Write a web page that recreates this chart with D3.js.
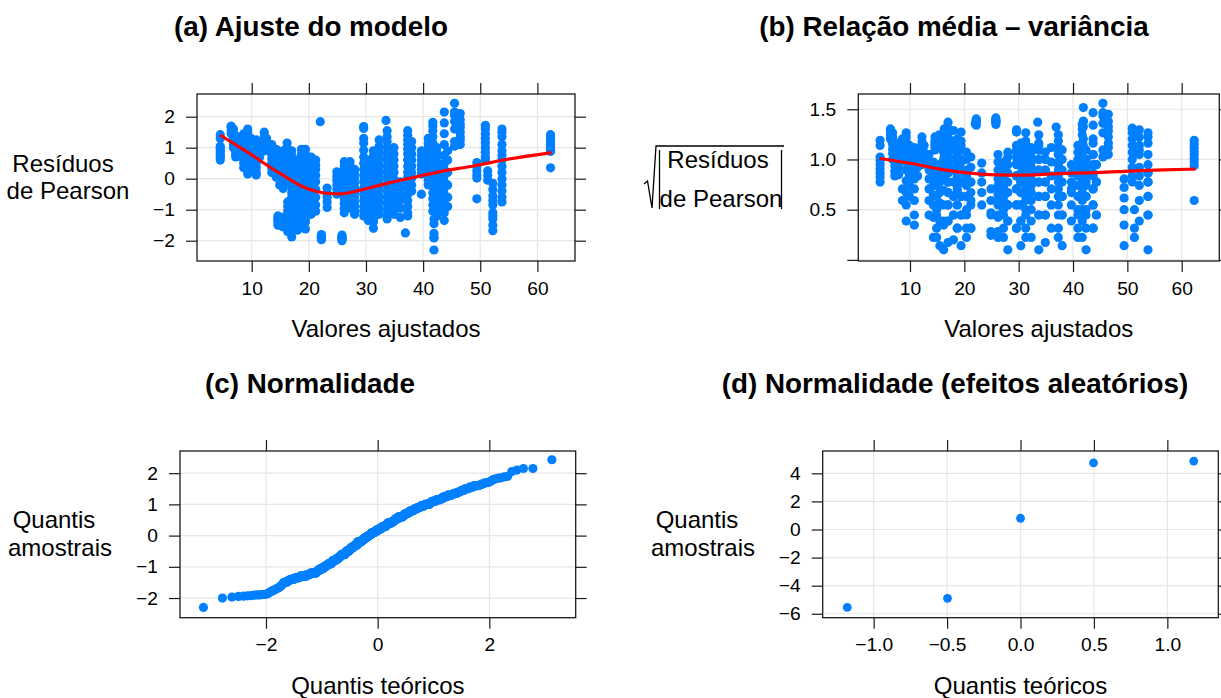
<!DOCTYPE html>
<html><head><meta charset="utf-8">
<script src="https://cdn.jsdelivr.net/npm/d3@7/dist/d3.min.js"></script>
<style>
html,body{margin:0;padding:0;background:#fff;}
svg{display:block;font-family:"Liberation Sans",Arial,Helvetica,sans-serif;}
</style></head>
<body><svg id="chart" width="1221" height="698"></svg>
<script>
// ---------------- DATA ----------------
// Fitted values (x position of each vertical group of observations)
const fittedGroups = [4.5,6.4,6.8,7.2,7.9,8.6,9.3,9.9,10.8,11.4,12.2,12.6,13.5,14.3,14.6,14.9,15.4,15.5,16.2,16.3,17.0,18.0,18.7,19.4,20.4,21.2,22.0,22.2,23.2,24.9,25.8,26.2,27.2,28.0,29.6,30.4,31.3,32.3,33.5,33.7,34.9,36.0,36.9,37.3,38.0,39.7,40.9,41.7,41.9,42.4,43.7,44.3,45.5,46.5,49.4,50.9,51.3,52.2,53.8,62.3];
// Pearson residuals for the observations of each group
const residualGroups = [
 [1.42,1.3,1.05,0.98,0.9,0.82,0.75,0.68,0.6],
 [1.7,1.65,1.55,1.45],
 [1.6,1.5,1.4,1.32,1.22,1.12,1.0],
 [1.3,1.2,1.1,0.98,0.88,0.78,0.7],
 [1.35,1.2,1.08,0.95,0.85,0.72],
 [1.45,1.3,1.15,1.0,0.5,0.35],
 [1.6,1.5,1.38,1.25,1.1,0.95,0.8,0.62,0.45,0.3,0.15],
 [1.3,1.15,1.0,0.85,0.7,0.55,0.4],
 [1.25,1.1,0.95,0.8,0.65,0.5,0.35,0.2,0.12],
 [1.15,1.0,0.85,0.7],
 [1.5,1.38,1.25,1.12,1.0,0.9],
 [1.3,1.15,1.02,0.92],
 [1.1,0.95,0.8,0.65,0.5,0.35,0.2],
 [0.95,0.82,0.68,0.55,0.42,0.3,0.18,0.05],
 [-1.2,-1.25,-1.3,-1.35,-1.4,-1.5],
 [0.85,0.7,0.55,0.4,0.25,0.1,-0.05,-0.2],
 [-1.25,-1.3,-1.35,-1.4,-1.45,-1.55],
 [0.9,0.75,0.6,0.45,0.3,0.15,0.02,-0.15,-0.32],
 [1.15,1.0,0.82,0.65,0.48,0.3,0.15,-0.01,-0.12],
 [-0.75,-0.9,-1.05,-1.2,-1.25,-1.3,-1.35,-1.4,-1.5,-1.7],
 [0.9,0.75,0.6,0.45,0.3,0.15,0.03,-0.15,-0.3,-0.45,-0.6,-0.75,-0.9,-1.05,-1.2,-1.25,-1.3,-1.35,-1.5,-1.72,-1.88],
 [0.6,0.4,0.2,-0.04,-0.2,-0.4,-0.6,-0.8,-1.0,-1.2,-1.3,-1.4,-1.66],
 [0.95,0.78,0.6,0.45,0.3,0.1,-0.1,-0.3,-0.5,-0.7,-0.9,-1.1,-1.2,-1.3,-1.35,-1.45],
 [0.95,0.8,0.6,0.4,0.2,0.02,-0.2,-0.4,-0.6,-0.8,-1.0,-1.2,-1.3,-1.4,-1.62],
 [0.7,0.55,0.4,0.25,0.1,-0.05,-0.2,-0.4,-0.6,-0.8,-1.0,-1.15],
 [0.6,0.45,0.3,0.1,-0.1,-0.35,-0.6,-0.85,-1.05],
 [1.84],
 [-1.8,-1.86,-1.9,-1.92,-1.94,-1.97],
 [-0.3,-0.45,-0.6,-0.75,-0.93],
 [0.22,0.08,-0.06,-0.2,-0.35,-0.5],
 [-1.82,-1.88,-1.9,-1.93,-1.95,-2.0],
 [0.55,0.42,0.3,0.18,0.05,-0.08,-0.2,-0.35,-0.5,-0.65,-0.8,-0.95,-1.1],
 [0.55,0.4,0.25,0.1,-0.05,-0.2,-0.35,-0.5,-0.65,-0.8,-0.95],
 [0.3,0.15,0.01,-0.15,-0.3,-0.45,-0.6,-0.75,-0.9,-1.05,-1.15],
 [1.68,1.62,1.3,1.15,0.92,0.7,0.5,0.3,0.1,-0.1,-0.3,-0.5,-0.7,-0.9,-1.05,-1.2],
 [0.6,0.45,0.3,0.15,-0.02,-0.15,-0.3,-0.45,-0.6,-0.75,-0.9,-1.05,-1.2,-1.25,-1.35],
 [0.9,0.72,0.55,0.4,0.25,0.1,-0.05,-0.2,-0.35,-0.5,-0.65,-0.8,-0.95,-1.1,-1.25,-1.3,-1.4,-1.6],
 [1.25,1.05,0.85,0.65,0.45,0.25,0.05,-0.15,-0.35,-0.55,-0.75,-0.95,-1.15],
 [1.88],
 [1.55,1.35,1.2,1.0,0.8,0.6,0.4,0.2,0.01,-0.2,-0.4,-0.6,-0.8,-1.0,-1.2,-1.3],
 [1.0,0.8,0.6,0.4,0.2,-0.03,-0.2,-0.4,-0.6,-0.8,-1.0,-1.15],
 [-0.1,-0.3,-0.5,-0.7,-0.95,-1.25],
 [-1.75],
 [1.55,1.4,1.25,1.1,0.95,0.8,0.6,0.4,0.2,0.05,-0.1,-0.3,-0.5,-0.7,-0.9,-1.1,-1.2],
 [1.2,1.0,0.8,0.6,0.4,0.2,0.02,-0.2,-0.4],
 [0.9,0.75,0.6,0.45,0.3,0.15,-0.5],
 [1.3,1.15,1.0,0.85,0.7,0.55,0.4,0.25,0.1,-0.05,-0.2],
 [1.82,1.7,1.55,1.35,1.15,0.95,0.75,0.55,0.35,0.15,-0.05,-0.25,-0.45,-0.65,-0.85,-1.05],
 [-1.3,-1.45,-1.76,-1.89,-1.91,-2.3],
 [1.0,0.85,0.7,0.55,0.4,0.25,0.1,-0.01,-0.2,-0.4,-0.6,-0.8,-1.0,-1.2],
 [2.15,1.8,1.45,1.1,0.75,0.5,0.3,0.1,-0.1,-0.3,-0.5,-0.7,-0.9,-1.1,-1.35],
 [0.9,0.6,0.2,-0.2,-0.6,-0.9],
 [2.43,2.15,2.05,1.85,1.6,1.2,1.05],
 [2.1,1.9,1.76,1.65,1.5,1.35,1.25,1.1],
 [0.52,0.38,0.25,0.12,0.02,-0.65],
 [1.72,1.6,1.45,1.3,1.15,1.0,0.85,0.7,0.6],
 [0.25,0.1,-0.05],
 [-0.15,-0.35,-0.55,-0.7,-0.85,-1.1,-1.2,-1.3,-1.5,-1.68],
 [1.6,1.5,1.35,1.1,0.9,0.75,0.6,0.4,0.2,-0.01,-0.2,-0.4,-0.6,-0.75],
 [1.42,1.33,1.25,1.17,1.1,1.02,0.95,0.88,0.35]
];
// Smoother (loess) curves
const smoothResidX = [4.46,9.12,14.96,19.6,23.1,25.5,29.0,33.7,38.3,43.0,48.8,54.6,62.5];
const smoothResidY = [1.41,0.87,0.17,-0.31,-0.47,-0.49,-0.37,-0.15,0.04,0.23,0.41,0.62,0.84];
const smoothScaleX = [4.4,10.6,15.5,21.0,26.0,30.9,35.2,40.1,44.4,50.5,56.7,62.5];
const smoothScaleY = [1.01,0.957,0.904,0.864,0.847,0.844,0.854,0.864,0.870,0.884,0.897,0.904];
// Predicted random effects (5 levels)
const randomEffects = [-5.55,-4.9,0.8,4.75,4.87];
// Tick values
const ticksFitted = [10,20,30,40,50,60];
const ticksResid = [-2,-1,0,1,2];
const ticksScale = [0,0.5,1.0,1.5];
const ticksQQx = [-2,0,2];
const ticksRanefX = [-1.0,-0.5,0.0,0.5,1.0];
const ticksRanefY = [-6,-4,-2,0,2,4];

// ---------------- HELPERS ----------------
function qnorm(p){
 const a=[-3.969683028665376e+01,2.209460984245205e+02,-2.759285104469687e+02,1.383577518672690e+02,-3.066479806614716e+01,2.506628277459239e+00];
 const b=[-5.447609879822406e+01,1.615858368580409e+02,-1.556989798598866e+02,6.680131188771972e+01,-1.328068155288572e+01];
 const c=[-7.784894002430293e-03,-3.223964580411365e-01,-2.400758277161838e+00,-2.549732539343734e+00,4.374664141464968e+00,2.938163982698783e+00];
 const d=[7.784695709041462e-03,3.224671290700398e-01,2.445134137142996e+00,3.754408661907416e+00];
 const pl=0.02425, ph=1-pl;
 if(p<pl){const q=Math.sqrt(-2*Math.log(p));return (((((c[0]*q+c[1])*q+c[2])*q+c[3])*q+c[4])*q+c[5])/((((d[0]*q+d[1])*q+d[2])*q+d[3])*q+1);}
 if(p<=ph){const q=p-0.5,r=q*q;return (((((a[0]*r+a[1])*r+a[2])*r+a[3])*r+a[4])*r+a[5])*q/(((((b[0]*r+b[1])*r+b[2])*r+b[3])*r+b[4])*r+1);}
 const q=Math.sqrt(-2*Math.log(1-p));return -(((((c[0]*q+c[1])*q+c[2])*q+c[3])*q+c[4])*q+c[5])/((((d[0]*q+d[1])*q+d[2])*q+d[3])*q+1);
}
function ppoints(n){const a=n<=10?3/8:1/2;return d3.range(1,n+1).map(i=>(i-a)/(n+1-2*a));}
const minus = s => String(s).replace("-","\u2212");

// derived data
const obs = [];
fittedGroups.forEach((f,i)=>residualGroups[i].forEach(r=>obs.push({f,r})));
const sortedRes = obs.map(o=>o.r).sort(d3.ascending);
const theoRes = ppoints(sortedRes.length).map(qnorm);
const sortedRanef = randomEffects.slice().sort(d3.ascending);
const theoRanef = ppoints(sortedRanef.length).map(qnorm);

// ---------------- DRAW ----------------
const svg = d3.select("#chart");
const COL="#0080ff", FRAME="#1a1a1a", GRID="#e6e6e6";
const FT=19.2, FL=24, FM=27.8, TICK=11;

function panel(cfg){
 const g = svg.append("g");
 const x = d3.scaleLinear().domain(cfg.xd).range([cfg.L,cfg.R]);
 const y = d3.scaleLinear().domain(cfg.yd).range([cfg.B,cfg.T]);
 g.append("g").selectAll("line").data(cfg.xt).join("line")
  .attr("x1",d=>x(d)).attr("x2",d=>x(d)).attr("y1",cfg.T).attr("y2",cfg.B)
  .attr("stroke",GRID).attr("stroke-width",1.2);
 g.append("g").selectAll("line").data(cfg.yt).join("line")
  .attr("y1",d=>y(d)).attr("y2",d=>y(d)).attr("x1",cfg.L).attr("x2",cfg.R)
  .attr("stroke",GRID).attr("stroke-width",1.2);
 const styleAxis = (sel)=>{sel.select(".domain").remove();
   sel.selectAll(".tick line").attr("stroke",FRAME).attr("stroke-width",1.2);
   sel.selectAll(".tick text").attr("fill","#000").attr("font-size",FT).attr("font-family","Liberation Sans, Arial, sans-serif");};
 g.append("g").attr("transform",`translate(0,${cfg.B})`)
  .call(d3.axisBottom(x).tickValues(cfg.xt).tickSize(TICK).tickPadding(9).tickFormat(cfg.xf)).call(styleAxis);
 g.append("g").attr("transform",`translate(0,${cfg.T})`)
  .call(d3.axisTop(x).tickValues(cfg.xt).tickSize(TICK).tickFormat("")).call(styleAxis);
 g.append("g").attr("transform",`translate(${cfg.L},0)`)
  .call(d3.axisLeft(y).tickValues(cfg.yt).tickSize(TICK).tickPadding(11).tickFormat(cfg.yf)).call(styleAxis);
 g.append("g").attr("transform",`translate(${cfg.R},0)`)
  .call(d3.axisRight(y).tickValues(cfg.yt).tickSize(TICK).tickFormat("")).call(styleAxis);
 g.append("g").selectAll("circle").data(cfg.pts).join("circle")
  .attr("cx",d=>x(d[0])).attr("cy",d=>y(d[1])).attr("r",cfg.r||4.6).attr("fill",COL);
 if(cfg.line){
  g.append("path").datum(cfg.line)
   .attr("d",d3.line().x(d=>x(d[0])).y(d=>y(d[1])).curve(d3.curveMonotoneX))
   .attr("fill","none").attr("stroke","#ff0000").attr("stroke-width",3.2);
 }
 g.append("rect").attr("x",cfg.L).attr("y",cfg.T).attr("width",cfg.R-cfg.L).attr("height",cfg.B-cfg.T)
  .attr("fill","none").attr("stroke",FRAME).attr("stroke-width",1.3);
 svg.append("text").attr("x",cfg.tx).attr("y",cfg.T-58).attr("text-anchor","middle")
  .attr("font-size",FM).attr("font-weight","bold").text(cfg.title);
 svg.append("text").attr("x",(cfg.L+cfg.R)/2).attr("y",cfg.B+76).attr("text-anchor","middle")
  .attr("font-size",FL).text(cfg.xlab);
 return {x,y};
}

const fmt0 = d=>minus(d3.format("d")(d));
const fmt1 = d=>minus(d3.format(".1f")(d));

panel({L:197,R:575,T:94,B:261,xd:[0.427,66.58],yd:[-2.655,2.732],xt:ticksFitted,yt:ticksResid,
 xf:fmt0,yf:fmt0,pts:obs.map(o=>[o.f,o.r]),line:smoothResidX.map((v,i)=>[v,smoothResidY[i]]),
 tx:311,title:"(a) Ajuste do modelo",xlab:"Valores ajustados"});
panel({L:858.3,R:1219.3,T:94,B:261,xd:[0.486,66.92],yd:[-0.011,1.652],xt:ticksFitted,yt:ticksScale,
 xf:fmt0,yf:d=>d===0?"":fmt1(d),pts:obs.map(o=>[o.f,Math.sqrt(Math.abs(o.r))]),line:smoothScaleX.map((v,i)=>[v,smoothScaleY[i]]),
 tx:954,title:"(b) Rela\u00e7\u00e3o m\u00e9dia \u2013 vari\u00e2ncia",xlab:"Valores ajustados"});
panel({L:180,R:575.7,T:451,B:617.7,xd:[-3.54,3.547],yd:[-2.63,2.71],xt:ticksQQx,yt:ticksResid,
 xf:fmt0,yf:fmt0,pts:theoRes.map((t,i)=>[t,sortedRes[i]]),
 tx:310,title:"(c) Normalidade",xlab:"Quantis te\u00f3ricos"});
panel({L:822.7,R:1218.3,T:451,B:617.7,xd:[-1.347,1.347],yd:[-6.28,5.59],xt:ticksRanefX,yt:ticksRanefY,
 xf:fmt1,yf:fmt0,pts:theoRanef.map((t,i)=>[t,sortedRanef[i]]),r:4.4,
 tx:955,title:"(d) Normalidade (efeitos aleat\u00f3rios)",xlab:"Quantis te\u00f3ricos"});

function ylab(lines){lines.forEach(l=>svg.append("text").attr("x",l[0]).attr("y",l[1]).attr("text-anchor","middle").attr("font-size",FL).text(l[2]));}
ylab([[63,171.7,"Res\u00edduos"],[68,199.3,"de Pearson"]]);
ylab([[54,528,"Quantis"],[60,556,"amostrais"]]);
ylab([[697,528,"Quantis"],[703,556,"amostrais"]]);
ylab([[718,167.7,"Res\u00edduos"],[721,206.7,"de Pearson"]]);
svg.append("path").attr("d","M644,184 L647.5,181 L652,208 L656,146 L784,146")
 .attr("fill","none").attr("stroke","#000").attr("stroke-width",1.3);
svg.append("line").attr("x1",659.5).attr("x2",659.5).attr("y1",150).attr("y2",209).attr("stroke","#000").attr("stroke-width",1.3);
svg.append("line").attr("x1",781.5).attr("x2",781.5).attr("y1",150).attr("y2",209).attr("stroke","#000").attr("stroke-width",1.3);
</script></body></html>
